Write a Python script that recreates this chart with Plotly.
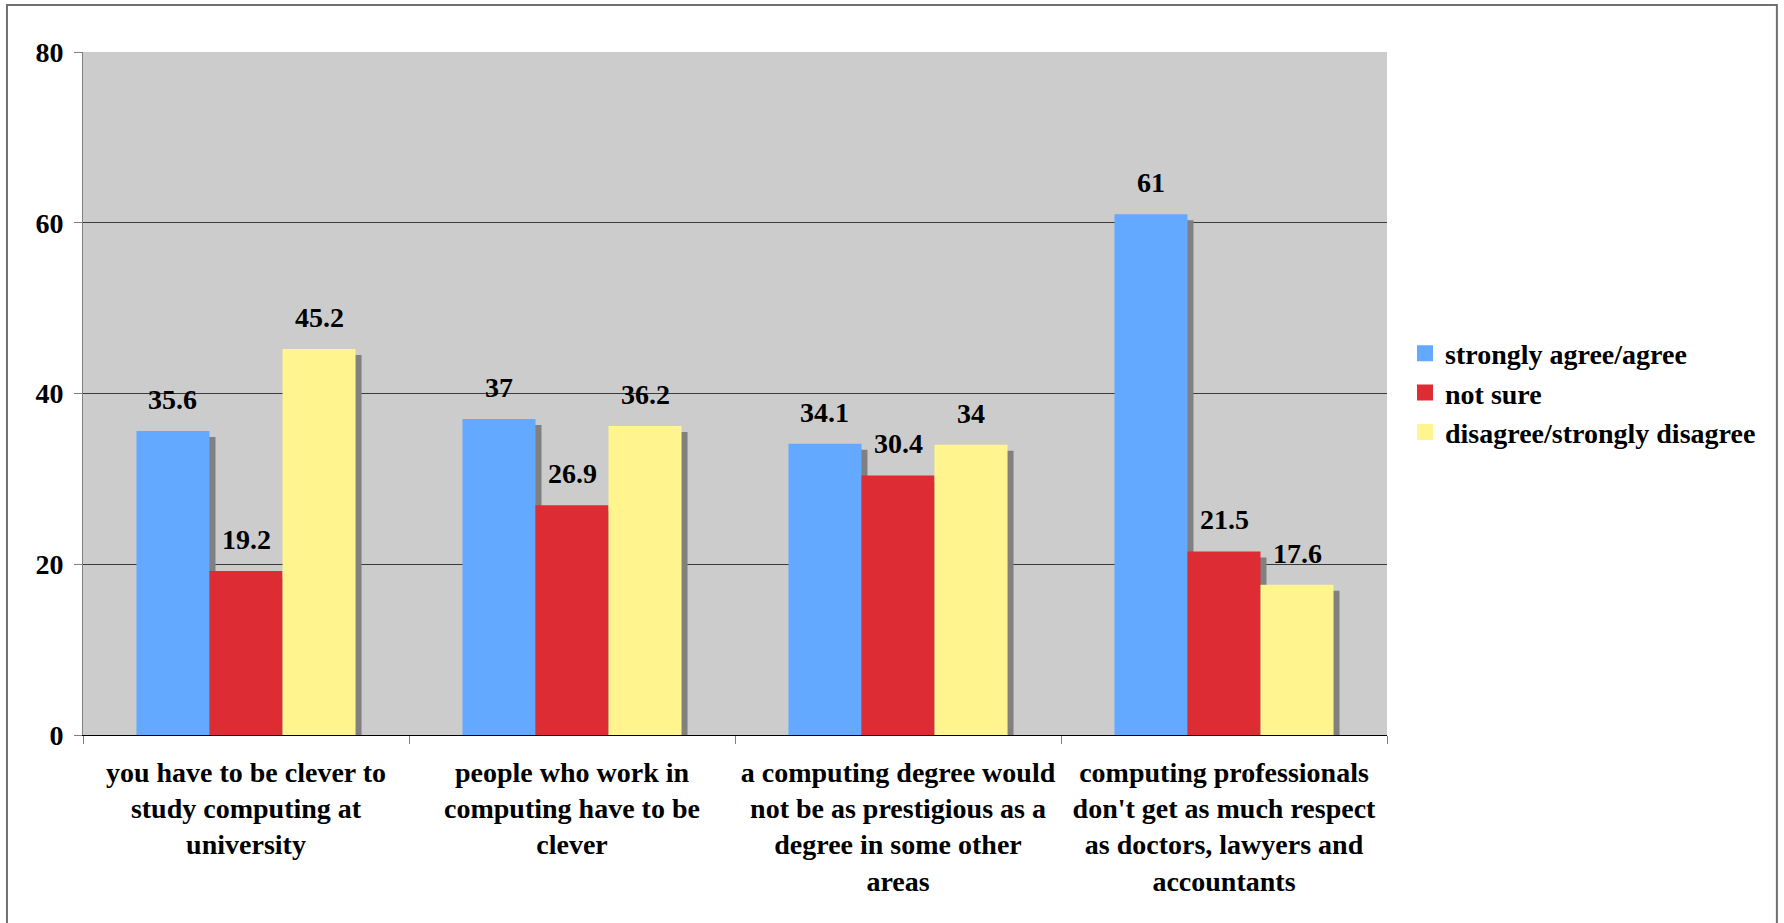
import plotly.graph_objects as go

# ---- data ----
categories = [
    "you have to be clever to<br>study computing at<br>university",
    "people who work in<br>computing have to be<br>clever",
    "a computing degree would<br>not be as prestigious as a<br>degree in some other<br>areas",
    "computing professionals<br>don't get as much respect<br>as doctors, lawyers and<br>accountants",
]
series_names = ["strongly agree/agree", "not sure", "disagree/strongly disagree"]
agree = [35.6, 37, 34.1, 61]
not_sure = [19.2, 26.9, 30.4, 21.5]
disagree = [45.2, 36.2, 34, 17.6]
y_ticks = [0, 20, 40, 60, 80]

# ---- style ----
colors = ["#63A9FF", "#DD2C33", "#FFF48D"]
SHADOW = "#808080"
BAR_W = 0.224
SH_DX = 0.0184
SH_DY = 0.70
FONT = "Liberation Serif, Times New Roman, serif"
FS = 28

series = [agree, not_sure, disagree]
idx = list(range(len(categories)))

fig = go.Figure()
# shadows
for j, vals in enumerate(series):
    xs = [i + (j - 1) * BAR_W + SH_DX for i in idx]
    fig.add_trace(go.Bar(x=xs, y=[v - SH_DY for v in vals], width=BAR_W,
                         marker=dict(color=SHADOW, line_width=0),
                         showlegend=False, hoverinfo="skip"))
annotations = []
for j, vals in enumerate(series):
    xs = [i + (j - 1) * BAR_W for i in idx]
    fig.add_trace(go.Bar(x=xs, y=vals, width=BAR_W, name=series_names[j],
                         marker=dict(color=colors[j], line_width=0),
                         showlegend=False))
    for x, v in zip(xs, vals):
        annotations.append(dict(x=x, y=v, text=f"{v:g}", showarrow=False,
                                xanchor="center", yanchor="bottom", yshift=14,
                                font=dict(family=FONT, size=FS, color="black", weight="bold")))
# legend entries
for j, name in enumerate(series_names):
    fig.add_trace(go.Scatter(x=[None], y=[None], mode="markers", name=name,
                             marker=dict(symbol="square", size=20, color=colors[j])))

fig.update_layout(
    width=1784, height=923,
    margin=dict(l=83, r=397, t=52, b=188),
    paper_bgcolor="white", plot_bgcolor="#CCCCCC",
    barmode="overlay",
    font=dict(family=FONT, size=FS, color="black", weight="bold"),
    annotations=annotations,
    legend=dict(x=1.0138, xanchor="left", y=0.5007, yanchor="middle",
                font=dict(family=FONT, size=FS, weight="bold"),
                bgcolor="rgba(0,0,0,0)"),
    shapes=[dict(type="rect", xref="paper", yref="paper",
                 x0=-0.0583, x1=1.299, y0=-0.35, y1=1.0688,
                 line=dict(color="#707070", width=2), layer="below")],
)
fig.update_xaxes(range=[-0.5, 3.5], tickmode="array", tickvals=idx, ticktext=categories,
                 ticks="", showgrid=False, zeroline=False,
                 showline=True, linecolor="black", linewidth=1,
                 tickfont=dict(family=FONT, size=FS, weight="bold"),
                 ticklabelstandoff=12,
                 minor=dict(tickmode="array", tickvals=[-0.5, 0.5, 1.5, 2.5, 3.5],
                            ticks="outside", ticklen=8, tickcolor="#808080", showgrid=False))
fig.update_yaxes(range=[0, 80], tickmode="array", tickvals=y_ticks,
                 ticks="outside", ticklen=8, tickcolor="#808080",
                 showline=True, linecolor="#808080", linewidth=1,
                 showgrid=True, gridcolor="#3a3a3a", gridwidth=1, zeroline=False,
                 tickfont=dict(family=FONT, size=FS, weight="bold"),
                 ticklabelstandoff=5)

fig.write_html("out.html", config={"displayModeBar": False},
               post_script="document.body.style.margin='0';")
